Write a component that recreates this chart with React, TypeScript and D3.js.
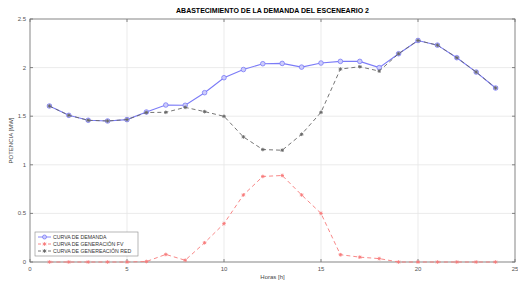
import * as d3 from 'd3'
import React from 'react'

const hours = d3.range(1, 25)
const demanda = [1.605, 1.509, 1.458, 1.451, 1.465, 1.543, 1.615, 1.612, 1.742, 1.896, 1.98, 2.04,
  2.043, 2.005, 2.047, 2.064, 2.064, 2.0, 2.143, 2.279, 2.231, 2.102, 1.954, 1.79]
const generacionFV = [0, 0, 0, 0, 0, 0.005, 0.078, 0.018, 0.198, 0.395, 0.69, 0.88,
  0.89, 0.69, 0.5, 0.075, 0.05, 0.035, 0, 0, 0, 0, 0, 0]
const generacionRed = [1.605, 1.509, 1.458, 1.451, 1.465, 1.538, 1.54, 1.591, 1.547, 1.499, 1.287, 1.157,
  1.15, 1.314, 1.54, 1.985, 2.009, 1.964, 2.143, 2.279, 2.231, 2.102, 1.954, 1.79]
const xTicks = [0, 5, 10, 15, 20, 25]
const yTicks = [0, 0.5, 1, 1.5, 2, 2.5]
const legendLabels = ['CURVA DE DEMANDA', 'CURVA DE GENERACIÓN FV', 'CURVA DE GENEREACIÓN RED']

const W = 518, H = 282
const m = { left: 30, right: 3, top: 19, bottom: 20 }

export default function App() {
  const
    x = d3.scaleLinear().domain([0, 25]).range([m.left, W - m.right]),
    y = d3.scaleLinear().domain([0, 2.5]).range([H - m.bottom, m.top]),
    line = (vals: number[]) => d3.line<number>().x((_, i) => x(hours[i])).y(d => y(d))(vals) as string,
    font = 'Liberation Sans, Arial, sans-serif',
    tickColor = '#555'

  const cross = (cx: number, cy: number, c: string, k: string) =>
    <g key={k} stroke={c} strokeWidth={0.9}>
      <line x1={cx - 1.8} y1={cy} x2={cx + 1.8} y2={cy} />
      <line x1={cx} y1={cy - 1.8} x2={cx} y2={cy + 1.8} />
      <line x1={cx - 1.3} y1={cy - 1.3} x2={cx + 1.3} y2={cy + 1.3} />
      <line x1={cx - 1.3} y1={cy + 1.3} x2={cx + 1.3} y2={cy - 1.3} />
    </g>

  const series = [
    { vals: demanda, color: '#7b7bf7', dash: undefined, marker: 'o' },
    { vals: generacionFV, color: '#f77b7b', dash: '4,3', marker: '*' },
    { vals: generacionRed, color: '#666', dash: '4,3', marker: '*' },
  ]

  const lg = { x: 35, y: 232, w: 103, h: 24 }

  return (
    <svg width={W} height={H} style={{ position: 'absolute', left: 0, top: 0 }} fontFamily={font}>
      <rect width={W} height={H} fill='#fff' />
      <text x={(m.left + W - m.right) / 2} y={13} textAnchor='middle' fontSize={7} fontWeight='bold'>
        ABASTECIMIENTO DE LA DEMANDA DEL ESCENEARIO 2
      </text>
      {xTicks.map(t => <line key={'gx' + t} x1={x(t)} x2={x(t)} y1={m.top} y2={H - m.bottom} stroke='#e6e6e6' strokeWidth={0.8} />)}
      {yTicks.map(t => <line key={'gy' + t} x1={m.left} x2={W - m.right} y1={y(t)} y2={y(t)} stroke='#e6e6e6' strokeWidth={0.8} />)}
      {xTicks.map(t => <g key={'tx' + t}>
        <line x1={x(t)} x2={x(t)} y1={H - m.bottom} y2={H - m.bottom - 3} stroke={tickColor} strokeWidth={0.7} />
        <line x1={x(t)} x2={x(t)} y1={m.top} y2={m.top + 3} stroke={tickColor} strokeWidth={0.7} />
        <text x={x(t)} y={H - m.bottom + 9} textAnchor='middle' fontSize={6} fill={tickColor}>{t}</text>
      </g>)}
      {yTicks.map(t => <g key={'ty' + t}>
        <line x1={m.left} x2={m.left + 3} y1={y(t)} y2={y(t)} stroke={tickColor} strokeWidth={0.7} />
        <line x1={W - m.right} x2={W - m.right - 3} y1={y(t)} y2={y(t)} stroke={tickColor} strokeWidth={0.7} />
        <text x={m.left - 4} y={y(t) + 2} textAnchor='end' fontSize={6} fill={tickColor}>{t}</text>
      </g>)}
      <rect x={m.left} y={m.top} width={W - m.left - m.right} height={H - m.top - m.bottom} fill='none' stroke='#777' strokeWidth={0.8} />
      <text x={(m.left + W - m.right) / 2} y={H - 3} textAnchor='middle' fontSize={6} fill='#444'>Horas [h]</text>
      <text transform={`translate(13,${(m.top + H - m.bottom) / 2}) rotate(-90)`} textAnchor='middle' fontSize={6} fill='#444'>POTENCIA [MW]</text>

      {series.map((s, si) => <g key={'s' + si}>
        <path d={line(s.vals)} fill='none' stroke={s.color} strokeWidth={si === 0 ? 1.1 : 0.9} strokeDasharray={s.dash} />
        {s.vals.map((v, i) => s.marker === 'o'
          ? <circle key={i} cx={x(hours[i])} cy={y(v)} r={2.3} fill='#cdcdfb' stroke={s.color} strokeWidth={0.8} />
          : cross(x(hours[i]), y(v), s.color, 'm' + si + '-' + i))}
      </g>)}

      <rect x={lg.x} y={lg.y} width={lg.w} height={lg.h} fill='#fff' stroke='#888' strokeWidth={0.6} />
      {legendLabels.map((l, i) => {
        const ly = lg.y + 5 + i * 7, s = series[i]
        return <g key={'l' + i}>
          <line x1={lg.x + 3} x2={lg.x + 16} y1={ly} y2={ly} stroke={s.color} strokeWidth={0.9} strokeDasharray={s.dash ? '3,2' : undefined} />
          {s.marker === 'o'
            ? <circle cx={lg.x + 9.5} cy={ly} r={2} fill='#cdcdfb' stroke={s.color} strokeWidth={0.8} />
            : cross(lg.x + 9.5, ly, s.color, 'lm' + i)}
          <text x={lg.x + 18} y={ly + 2} fontSize={5.2} fill='#333'>{l}</text>
        </g>
      })}
    </svg>
  )
}
